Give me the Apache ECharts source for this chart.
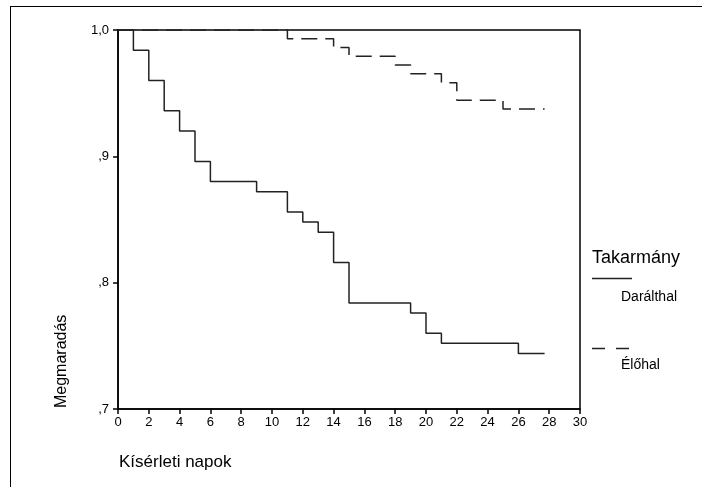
<!DOCTYPE html>
<html>
<head>
<meta charset="utf-8">
<script src="https://cdn.jsdelivr.net/npm/echarts@6/dist/echarts.min.js"></script>
<style>
  html, body { margin: 0; padding: 0; background: #fff; }
  #chart { width: 702px; height: 487px; }
</style>
</head>
<body>
<div id="chart"></div>
<script>
// Kaplan-Meier tulelesi gorbek, ket takarmany csoport
const groupNames = ['Darálthal', 'Élőhal'];
const daralthalDays = [0, 1, 2, 3, 4, 5, 6, 9, 11, 12, 13, 14, 15, 19, 20, 21, 26, 27.7];
const daralthalSurv = [1, 0.984, 0.96, 0.936, 0.92, 0.896, 0.88, 0.872, 0.856, 0.848, 0.84, 0.816, 0.784, 0.776, 0.76, 0.752, 0.744, 0.744];
const elohalDays = [0, 11, 14, 15, 18, 19, 21, 22, 25, 27.7];
const elohalSurv = [1, 0.9931, 0.9861, 0.9792, 0.9722, 0.9653, 0.9583, 0.9444, 0.9375, 0.9375];
const yTickLabels = [',7', ',8', ',9', '1,0'];
const xAxisTitle = 'Kísérleti napok';
const yAxisTitle = 'Megmaradás';
const legendTitle = 'Takarmány';

const font = '"Liberation Sans", Arial, sans-serif';
const chart = echarts.init(document.getElementById('chart'), null, { renderer: 'canvas' });

function pairs(days, vals) {
  return days.map(function (d, i) { return [d, vals[i]]; });
}

const axisLineStyle = { color: '#000', width: 1.5 };

var option = {
  animation: false,
  backgroundColor: '#fff',
  grid: {
    left: 118, right: 122, top: 30, bottom: 78,
    show: true, borderColor: '#000', borderWidth: 1.5,
    containLabel: false, outerBoundsMode: 'none'
  },
  xAxis: {
    type: 'value', min: 0, max: 30, interval: 2,
    axisLine: { show: true, onZero: false, lineStyle: axisLineStyle },
    axisTick: { show: true, length: 5, lineStyle: axisLineStyle },
    axisLabel: { color: '#000', fontSize: 13, fontFamily: font, margin: 7 },
    splitLine: { show: false }
  },
  yAxis: {
    type: 'value', min: 0.7, max: 1.0, interval: 0.1,
    axisLine: { show: true, onZero: false, lineStyle: axisLineStyle },
    axisTick: { show: true, length: 5, lineStyle: axisLineStyle },
    axisLabel: {
      color: '#000', fontSize: 13, fontFamily: font, margin: 9,
      formatter: function (v) { return yTickLabels[Math.round(v * 10) - 7]; }
    },
    splitLine: { show: false }
  },
  series: [
    {
      name: groupNames[0], type: 'line', step: 'end', symbol: 'none',
      data: pairs(daralthalDays, daralthalSurv),
      lineStyle: { color: '#222', width: 1.5, type: 'solid' }
    },
    {
      name: groupNames[1], type: 'line', step: 'end', symbol: 'none',
      data: pairs(elohalDays, elohalSurv),
      lineStyle: { color: '#222', width: 1.5, type: [16, 8] }
    }
  ],
  graphic: [
    // kulso keret (csak felso es bal oldal latszik)
    { type: 'line', shape: { x1: 10, y1: 6.5, x2: 702, y2: 6.5 }, style: { stroke: '#000', lineWidth: 1 } },
    { type: 'line', shape: { x1: 10.5, y1: 6, x2: 10.5, y2: 487 }, style: { stroke: '#000', lineWidth: 1 } },
    {
      type: 'text', x: 62, y: 408, rotation: Math.PI / 2,
      style: { text: yAxisTitle, font: '16px ' + font, fill: '#000', align: 'left', verticalAlign: 'middle' }
    },
    {
      type: 'text', x: 119, y: 462,
      style: { text: xAxisTitle, font: '17px ' + font, fill: '#000', align: 'left', verticalAlign: 'middle' }
    },
    // jelmagyarazat
    {
      type: 'text', x: 592, y: 258,
      style: { text: legendTitle, font: '18px ' + font, fill: '#000', align: 'left', verticalAlign: 'middle' }
    },
    { type: 'line', shape: { x1: 592, y1: 278.5, x2: 632, y2: 278.5 }, style: { stroke: '#222', lineWidth: 1.5 } },
    {
      type: 'text', x: 621, y: 297,
      style: { text: groupNames[0], font: '14px ' + font, fill: '#000', align: 'left', verticalAlign: 'middle' }
    },
    { type: 'line', shape: { x1: 592, y1: 348.5, x2: 632, y2: 348.5 }, style: { stroke: '#222', lineWidth: 1.5, lineDash: [13, 11] } },
    {
      type: 'text', x: 621, y: 365,
      style: { text: groupNames[1], font: '14px ' + font, fill: '#000', align: 'left', verticalAlign: 'middle' }
    }
  ]
};

chart.setOption(option);
</script>
</body>
</html>
